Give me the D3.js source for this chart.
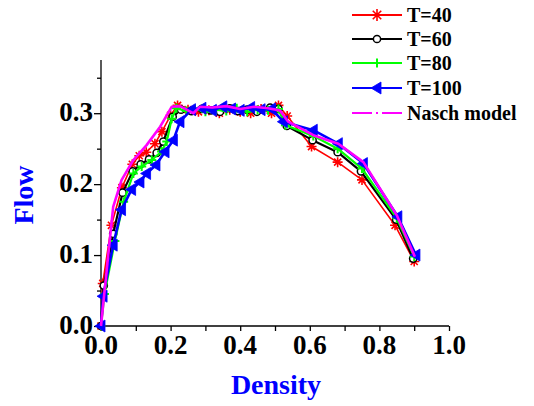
<!DOCTYPE html>
<html><head><meta charset="utf-8">
<script src="https://cdn.jsdelivr.net/npm/d3@7"></script>
<style>html,body{margin:0;padding:0;background:#fff}svg{display:block}
svg text{font-family:"Liberation Serif","Times New Roman",Times,"DejaVu Serif",serif;font-weight:bold}</style>
</head><body>
<script>
const xTicks = [0, 0.2, 0.4, 0.6, 0.8, 1.0];
const yTicks = [0, 0.1, 0.2, 0.3];

const d40 = [0, 0.005, 0.03, 0.06, 0.09, 0.11, 0.13, 0.155, 0.175, 0.2, 0.22, 0.25, 0.28, 0.31, 0.34, 0.37, 0.4, 0.43, 0.46, 0.49, 0.51, 0.535, 0.605, 0.68, 0.75, 0.845, 0.9];
const f40 = [0, 0.06, 0.142, 0.195, 0.228, 0.24, 0.245, 0.257, 0.274, 0.297, 0.311, 0.305, 0.302, 0.304, 0.3, 0.305, 0.302, 0.3, 0.306, 0.3, 0.311, 0.296, 0.253, 0.231, 0.206, 0.142, 0.091];

const d60 = [0, 0.008, 0.035, 0.062, 0.091, 0.114, 0.138, 0.16, 0.179, 0.206, 0.23, 0.26, 0.29, 0.315, 0.342, 0.37, 0.394, 0.42, 0.448, 0.486, 0.51, 0.534, 0.608, 0.68, 0.747, 0.848, 0.897];
const f60 = [0, 0.057, 0.13, 0.188, 0.218, 0.228, 0.235, 0.244, 0.26, 0.295, 0.305, 0.303, 0.306, 0.304, 0.302, 0.307, 0.303, 0.305, 0.302, 0.308, 0.306, 0.282, 0.262, 0.245, 0.218, 0.150, 0.095];

const d80 = [0, 0.01, 0.04, 0.065, 0.093, 0.117, 0.146, 0.174, 0.189, 0.203, 0.217, 0.245, 0.27, 0.3, 0.33, 0.36, 0.39, 0.42, 0.45, 0.48, 0.51, 0.53, 0.61, 0.68, 0.75, 0.85, 0.9];
const f80 = [0, 0.045, 0.12, 0.175, 0.215, 0.225, 0.234, 0.246, 0.26, 0.292, 0.307, 0.303, 0.306, 0.302, 0.305, 0.303, 0.307, 0.302, 0.305, 0.304, 0.306, 0.283, 0.268, 0.25, 0.222, 0.152, 0.098];

const d100 = [0, 0.006, 0.035, 0.059, 0.088, 0.112, 0.131, 0.158, 0.184, 0.208, 0.227, 0.26, 0.29, 0.32, 0.35, 0.375, 0.4, 0.43, 0.46, 0.49, 0.524, 0.61, 0.682, 0.754, 0.853, 0.905];
const f100 = [0, 0.042, 0.114, 0.164, 0.1925, 0.203, 0.215, 0.227, 0.2455, 0.262, 0.288, 0.305, 0.307, 0.304, 0.309, 0.306, 0.304, 0.308, 0.305, 0.306, 0.288, 0.276, 0.257, 0.229, 0.154, 0.1];

const dNasch = [0, 0.035, 0.059, 0.093, 0.131, 0.17, 0.203, 0.227, 0.265, 0.284, 0.32, 0.36, 0.4, 0.44, 0.48, 0.514, 0.538, 0.61, 0.682, 0.754, 0.85, 0.902];
const fNasch = [0, 0.168, 0.2056, 0.234, 0.255, 0.281, 0.309, 0.31, 0.3, 0.309, 0.308, 0.31, 0.306, 0.309, 0.307, 0.304, 0.288, 0.269, 0.257, 0.231, 0.156, 0.0976];

const seriesNames = ["T=40", "T=60", "T=80", "T=100", "Nasch model"];

const W = 534, H = 406;
const svg = d3.select("body").append("svg").attr("width", W).attr("height", H);

const x = d3.scaleLinear().domain([0, 1]).range([101, 449]);
const y = d3.scaleLinear().domain([0, 0.375]).range([326, 60]);

// axes
const xAxis = svg.append("g").attr("transform", "translate(0,326)")
  .call(d3.axisBottom(x).tickValues(d3.range(0, 1.0001, 0.1)).tickSize(5).tickFormat(""));
xAxis.select(".domain").attr("d", `M${x(0)},0H${x(1)}`);
const yAxis = svg.append("g").attr("transform", "translate(101,0)")
  .call(d3.axisLeft(y).tickValues(d3.range(0, 0.3751, 0.05)).tickSize(4).tickFormat(""));
yAxis.select(".domain").attr("d", `M0,${y(0.375)}V${y(0)}`);
yAxis.selectAll(".tick line").attr("x2", (d) => (Math.round(d*100) % 10 === 0 ? -7 : -4));
[xAxis, yAxis].forEach(g => { g.selectAll("path,line").attr("stroke", "#000").attr("stroke-width", 1.3); });

svg.append("g").selectAll("text").data(xTicks).join("text")
  .attr("x", d => x(d)).attr("y", 354).attr("text-anchor", "middle")
  .style("font-size", "27px")
  .text(d => d.toFixed(1));
svg.append("g").selectAll("text").data(yTicks).join("text")
  .attr("x", 93).attr("y", d => y(d) + 8).attr("text-anchor", "end")
  .style("font-size", "27px")
  .text(d => d.toFixed(1));

svg.append("text").attr("x", 276).attr("y", 394).attr("text-anchor", "middle")
  .style("font-size", "28px")
  .attr("fill", "#0000ff").text("Density");
svg.append("text").attr("transform", "translate(33,195) rotate(-90)").attr("text-anchor", "middle")
  .style("font-size", "28px")
  .attr("fill", "#0000ff").text("Flow");

// markers
function star(g, cx, cy, r) {
  r = r || 5;
  const p = [];
  for (let i = 0; i < 4; i++) {
    const a = i * Math.PI / 4;
    p.push(`M${cx - r*Math.cos(a)},${cy - r*Math.sin(a)}L${cx + r*Math.cos(a)},${cy + r*Math.sin(a)}`);
  }
  g.append("path").attr("d", p.join("")).attr("stroke", "#ff0000").attr("stroke-width", 1.6).attr("fill", "none");
}
function circ(g, cx, cy) {
  g.append("circle").attr("cx", cx).attr("cy", cy).attr("r", 3.6)
    .attr("fill", "#fff").attr("stroke", "#000").attr("stroke-width", 1.5);
}
function plus(g, cx, cy) {
  const r = 4.5;
  g.append("path").attr("d", `M${cx - r},${cy}H${cx + r}M${cx},${cy - r}V${cy + r}`)
    .attr("stroke", "#00ff00").attr("stroke-width", 2).attr("fill", "none");
}
function tri(g, cx, cy) {
  g.append("path").attr("d", `M${cx - 6},${cy}L${cx + 4},${cy - 6}L${cx + 4},${cy + 6}Z`)
    .attr("fill", "#0000ff").attr("stroke", "#0000ff").attr("stroke-width", 0.8);
}

const line = d3.line().x(d => x(d[0])).y(d => y(d[1]));
const series = [
  {xs: d40, ys: f40, color: "#ff0000", w: 1.6, mark: star},
  {xs: d60, ys: f60, color: "#000000", w: 2.2, mark: circ},
  {xs: d80, ys: f80, color: "#00ff00", w: 2.2, mark: plus},
  {xs: d100, ys: f100, color: "#0000ff", w: 2.6, mark: tri},
  {xs: dNasch, ys: fNasch, color: "#ff00ff", w: 2.6, mark: null}
];
const plot = svg.append("g");
series.forEach(s => {
  const pts = d3.zip(s.xs, s.ys);
  const g = plot.append("g");
  g.append("path").datum(pts).attr("d", line).attr("fill", "none")
    .attr("stroke", s.color).attr("stroke-width", s.w).attr("stroke-linejoin", "round");
  if (s.mark) pts.forEach(p => s.mark(g, x(p[0]), y(p[1])));
});

// legend
const leg = svg.append("g");
const legY = [15, 39, 63, 88, 113];
series.forEach((s, i) => {
  const ly = legY[i];
  const ln = leg.append("line").attr("x1", 352).attr("x2", 402).attr("y1", ly).attr("y2", ly)
    .attr("stroke", s.color).attr("stroke-width", 2.2);
  if (!s.mark) ln.attr("stroke-dasharray", "20,4,2,4,20");
  if (s.mark === star) star(leg, 377, ly, 6);
  else if (s.mark) s.mark(leg, 377, ly);
  leg.append("text").attr("x", 407).attr("y", ly + 6.5)
    .style("font-size", "20px")
    .text(seriesNames[i]);
});
</script>
</body></html>
